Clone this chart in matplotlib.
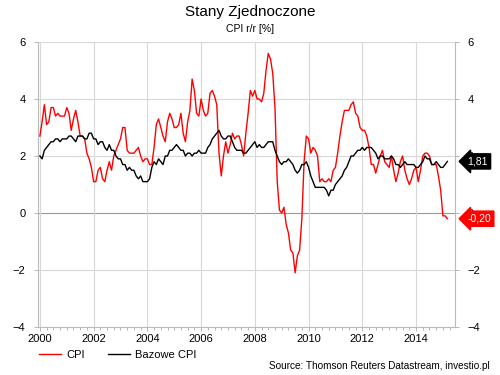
import matplotlib
matplotlib.use("Agg")
import matplotlib.pyplot as plt
import matplotlib.transforms as mtransforms
import numpy as np

plt.rcParams['font.family'] = ['Liberation Sans', 'DejaVu Sans']

start_year = 2000
cpi = [
    2.7, 3.2, 3.8, 3.1, 3.2, 3.7, 3.7, 3.4, 3.5, 3.4, 3.4, 3.4,
    3.7, 3.5, 2.9, 3.3, 3.6, 3.2, 2.7, 2.7, 2.6, 2.1, 1.9, 1.6,
    1.1, 1.1, 1.5, 1.6, 1.2, 1.1, 1.5, 1.8, 1.5, 2.0, 2.2, 2.4,
    2.6, 3.0, 3.0, 2.2, 2.1, 2.1, 2.1, 2.2, 2.3, 2.0, 1.8, 1.9,
    1.9, 1.7, 1.7, 2.3, 3.1, 3.3, 3.0, 2.7, 2.5, 3.2, 3.5, 3.3,
    3.0, 3.0, 3.1, 3.5, 2.8, 2.5, 3.2, 3.6, 4.7, 4.3, 3.5, 3.4,
    4.0, 3.6, 3.4, 3.5, 4.2, 4.3, 4.1, 3.8, 2.1, 1.3, 2.0, 2.5,
    2.1, 2.4, 2.8, 2.6, 2.7, 2.7, 2.4, 2.0, 2.8, 3.5, 4.3, 4.1,
    4.3, 4.0, 4.0, 3.9, 4.2, 5.0, 5.6, 5.4, 4.9, 3.7, 1.1, 0.1,
    0.0, 0.2, -0.4, -0.7, -1.3, -1.4, -2.1, -1.5, -1.3, -0.2, 1.8, 2.7,
    2.6, 2.1, 2.3, 2.2, 2.0, 1.1, 1.2, 1.1, 1.1, 1.2, 1.1, 1.5,
    1.6, 2.1, 2.7, 3.2, 3.6, 3.6, 3.6, 3.8, 3.9, 3.5, 3.4, 3.0,
    2.9, 2.9, 2.7, 2.3, 1.7, 1.7, 1.4, 1.7, 2.0, 2.2, 1.8, 1.7,
    1.6, 2.0, 1.5, 1.1, 1.4, 1.8, 2.0, 1.5, 1.2, 1.0, 1.2, 1.5,
    1.6, 1.1, 1.5, 2.0, 2.1, 2.1, 2.0, 1.7, 1.7, 1.7, 1.3, 0.8,
    -0.1, -0.1, -0.2,
]
core = [
    2.0, 1.9, 2.2, 2.3, 2.4, 2.5, 2.5, 2.6, 2.6, 2.5, 2.6, 2.6,
    2.6, 2.7, 2.7, 2.6, 2.5, 2.7, 2.7, 2.7, 2.6, 2.6, 2.8, 2.8,
    2.6, 2.6, 2.4, 2.5, 2.5, 2.3, 2.2, 2.4, 2.2, 2.2, 2.0, 1.9,
    1.9, 1.7, 1.7, 1.5, 1.6, 1.5, 1.5, 1.3, 1.2, 1.3, 1.1, 1.1,
    1.1, 1.2, 1.6, 1.8, 1.7, 1.9, 1.8, 1.7, 2.0, 2.0, 2.2, 2.2,
    2.3, 2.4, 2.3, 2.2, 2.2, 2.0, 2.1, 2.1, 2.0, 2.1, 2.1, 2.2,
    2.1, 2.1, 2.1, 2.3, 2.4, 2.6, 2.7, 2.8, 2.9, 2.7, 2.6, 2.6,
    2.7, 2.7, 2.5, 2.3, 2.2, 2.2, 2.2, 2.1, 2.1, 2.2, 2.3, 2.4,
    2.5, 2.3, 2.4, 2.3, 2.3, 2.4, 2.5, 2.5, 2.5, 2.2, 2.0, 1.8,
    1.7, 1.8, 1.8, 1.9, 1.8, 1.7, 1.5, 1.4, 1.5, 1.7, 1.7, 1.8,
    1.6, 1.3, 1.1, 0.9, 0.9, 0.9, 0.9, 0.9, 0.8, 0.6, 0.8, 0.8,
    1.0, 1.1, 1.2, 1.3, 1.5, 1.6, 1.8, 2.0, 2.0, 2.1, 2.2, 2.2,
    2.3, 2.2, 2.3, 2.3, 2.3, 2.2, 2.1, 1.9, 2.0, 2.0, 1.9, 1.9,
    1.9, 2.0, 1.9, 1.7, 1.7, 1.6, 1.7, 1.8, 1.7, 1.7, 1.7, 1.7,
    1.6, 1.6, 1.7, 1.8, 2.0, 1.9, 1.9, 1.7, 1.7, 1.8, 1.7, 1.6,
    1.6, 1.7, 1.81,
]
x_ticks = [2000, 2002, 2004, 2006, 2008, 2010, 2012, 2014]
y_ticks = [-4, -2, 0, 2, 4, 6]
cpi_label = "CPI"
core_label = "Bazowe CPI"
cpi_tag = "-0,20"
core_tag = "1,81"

t = start_year + np.arange(len(cpi)) / 12.0

fig = plt.figure(figsize=(5, 3.75), dpi=100)
ax = fig.add_axes([0.076, 0.128, 0.834, 0.76])

grid_c = '#d8d8d8'
for yv in y_ticks:
    ax.axhline(yv, color='#999999' if yv == 0 else grid_c, lw=0.8, zorder=1)
for xv in x_ticks:
    ax.axvline(xv, color=grid_c, lw=0.8, zorder=1)

ax.plot(t, cpi, color='#ff0000', lw=1.0, zorder=3, label=cpi_label)
ax.plot(t, core, color='#000000', lw=1.0, zorder=3, label=core_label)

ax.set_xlim(1999.93, 2015.45)
ax.set_ylim(-4, 6)
ax.set_xticks(x_ticks)
ax.set_xticks(np.arange(2000, 2015.5, 0.25), minor=True)
ax.set_yticks(y_ticks)
ax.tick_params(axis='both', labelsize=8, length=3, width=0.6)
ax.tick_params(axis='x', which='minor', length=2, width=0.6)
ax.tick_params(axis='x', pad=2)
ax.tick_params(axis='y', labelright=True, right=True, pad=6)
ax.spines['top'].set_visible(False)
for sp in ['left', 'right', 'bottom']:
    ax.spines[sp].set_color('#bbbbbb')
    ax.spines[sp].set_linewidth(0.8)
ax.tick_params(axis='both', which='both', color='#aaaaaa', labelcolor='#000000')

trans = mtransforms.blended_transform_factory(ax.transAxes, ax.transData)
ax.text(1.03, core[-1], core_tag, transform=trans, ha='left', va='center',
        fontsize=7.5, color='white', zorder=10, clip_on=False,
        bbox=dict(boxstyle='larrow,pad=0.25', fc='black', ec='black'))
ax.text(1.03, cpi[-1], cpi_tag, transform=trans, ha='left', va='center',
        fontsize=7.5, color='white', zorder=10, clip_on=False,
        bbox=dict(boxstyle='larrow,pad=0.25', fc='#ff0000', ec='#ff0000'))

fig.text(0.5, 0.967, "Stany Zjednoczone", ha='center', va='center', fontsize=11)
fig.text(0.5, 0.922, "CPI r/r [%]", ha='center', va='center', fontsize=7.5)

leg = fig.legend(loc='lower left', bbox_to_anchor=(0.058, 0.013), ncol=2,
                 frameon=False, fontsize=8, handlelength=2.0, columnspacing=2.1,
                 handletextpad=0.45)
fig.text(0.98, 0.01, "Source: Thomson Reuters Datastream, investio.pl",
         ha='right', va='bottom', fontsize=7.2)

fig.savefig('out.png', dpi=100)
